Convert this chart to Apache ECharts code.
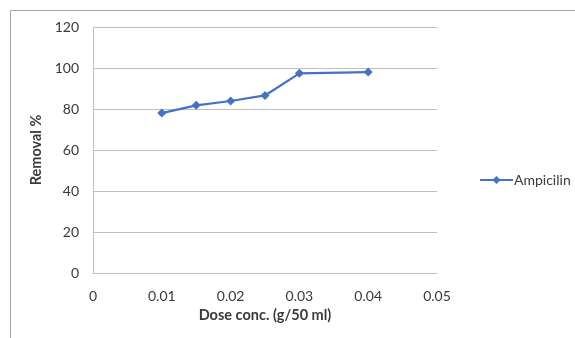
<!DOCTYPE html>
<html>
<head>
<meta charset="utf-8">
<script src="https://cdn.jsdelivr.net/npm/echarts@6/dist/echarts.min.js"></script>
<style>
  html, body { margin: 0; padding: 0; background: #fff; }
  #chart { width: 575px; height: 338px; }
</style>
</head>
<body>
<div id="chart"></div>
<script>
// Removal efficiency of ampicillin versus adsorbent dose
const doses = [0.01, 0.015, 0.02, 0.025, 0.03, 0.04];
const removal = [78.0, 81.8, 83.9, 86.6, 97.4, 98.0];
const seriesName = 'Ampicilin';
const xTitle = 'Dose conc. (g/50 ml)';
const yTitle = 'Removal %';

const textColor = '#3a3a3a';
const font = 'Lato, "Open Sans", sans-serif';

const chart = echarts.init(document.getElementById('chart'));
chart.setOption({
  animation: false,
  textStyle: { fontFamily: font },
  graphic: [{
    type: 'polyline',
    shape: { points: [[10.5, 340], [10.5, 10.5], [580, 10.5]] },
    style: { stroke: '#A6A6A6', lineWidth: 1, fill: null },
    silent: true
  }],
  grid: { left: 93, top: 27, right: 138, bottom: 65, containLabel: false },
  legend: {
    left: 474, top: 168,
    itemWidth: 33, itemHeight: 10, itemGap: 4,
    textStyle: { fontFamily: font, fontSize: 14, color: textColor, padding: [0, 0, 0, -4] },
    data: [seriesName]
  },
  xAxis: {
    type: 'value', min: 0, max: 0.05, interval: 0.01,
    name: xTitle, nameLocation: 'middle', nameGap: 30,
    nameTextStyle: { fontFamily: font, fontSize: 14.5, fontWeight: 'bold', color: textColor },
    axisLine: { show: true, lineStyle: { color: '#BFBFBF' } },
    axisTick: { show: false },
    splitLine: { show: false },
    axisLabel: {
      margin: 16, fontSize: 14, color: textColor, fontFamily: font,
      formatter: v => v === 0 ? '0' : v.toFixed(2)
    }
  },
  yAxis: {
    type: 'value', min: 0, max: 120, interval: 20,
    name: yTitle, nameLocation: 'middle', nameGap: 44, nameRotate: 90,
    nameTextStyle: { fontFamily: font, fontSize: 14.5, fontWeight: 'bold', color: textColor },
    axisLine: { show: true, lineStyle: { color: '#BFBFBF' } },
    axisTick: { show: false },
    splitLine: { show: true, lineStyle: { color: '#BFBFBF' } },
    axisLabel: { margin: 14, fontSize: 14, color: textColor, fontFamily: font }
  },
  series: [{
    name: seriesName,
    type: 'line',
    data: doses.map((d, i) => [d, removal[i]]),
    symbol: 'diamond', symbolSize: 9, showAllSymbol: true,
    lineStyle: { color: '#4472C4', width: 2.25 },
    itemStyle: { color: '#4472C4' }
  }]
});
</script>
</body>
</html>
